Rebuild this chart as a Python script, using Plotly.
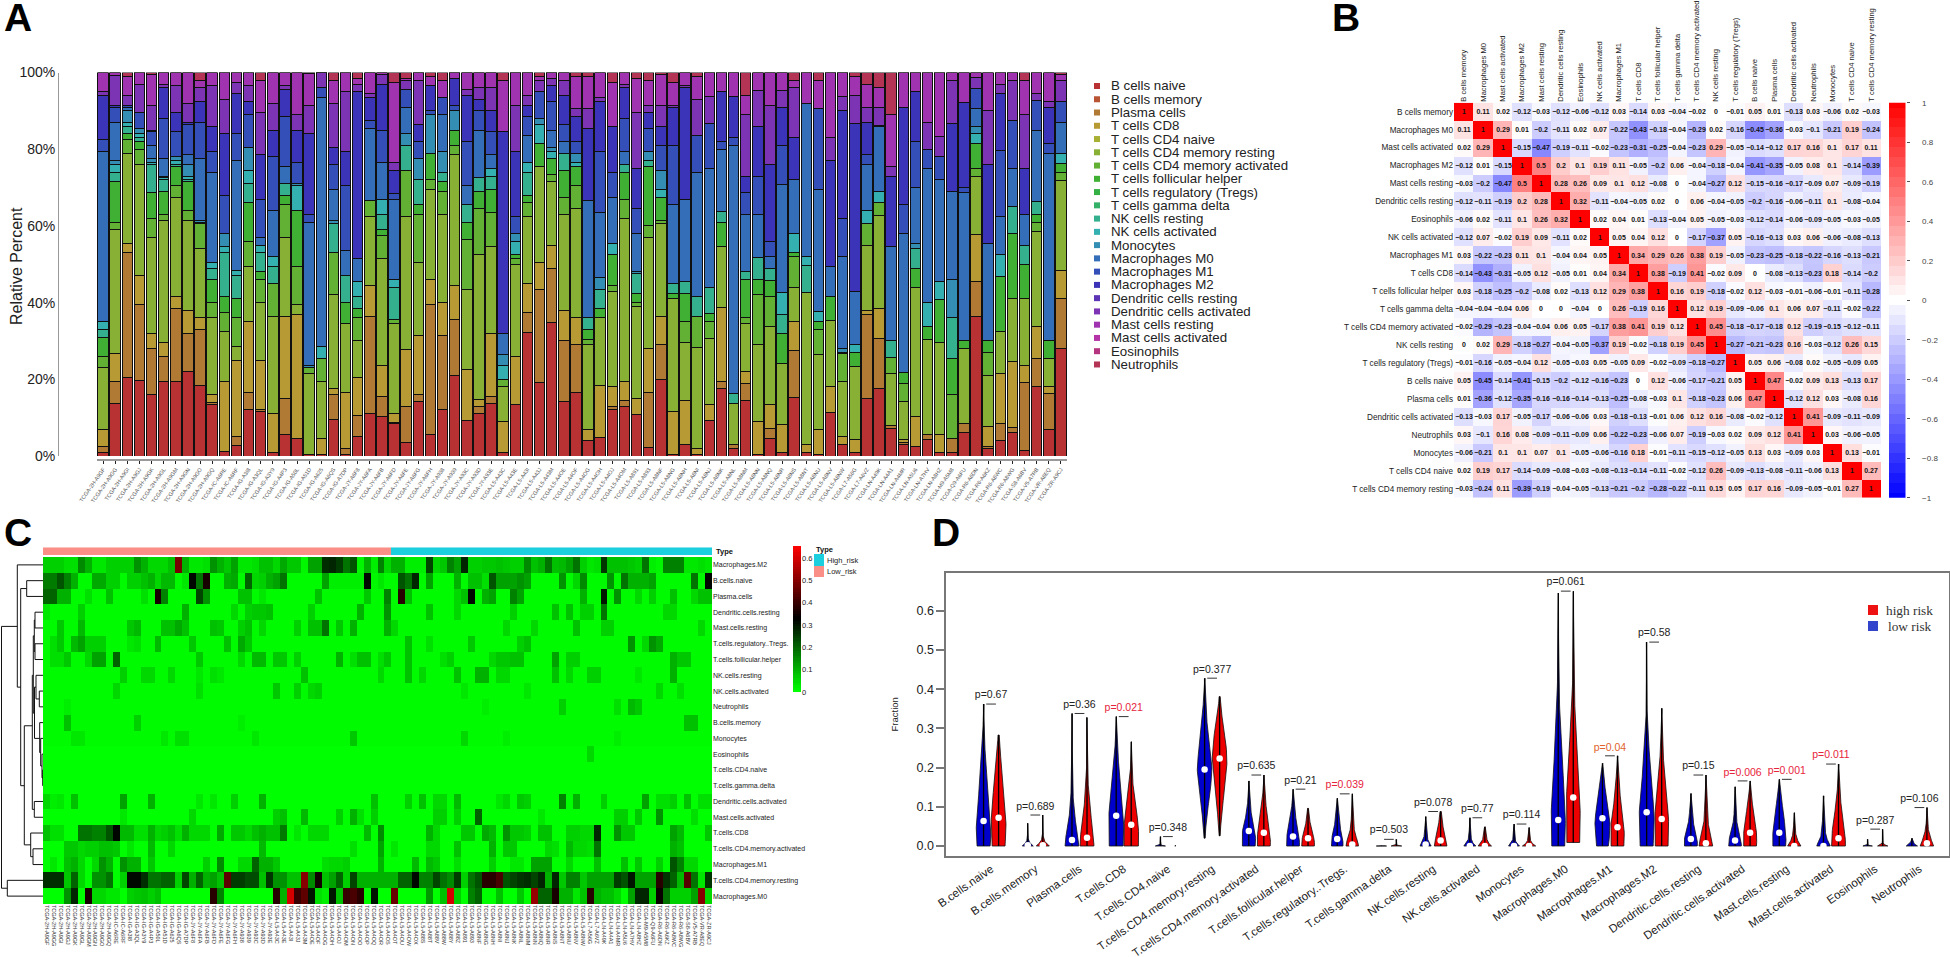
import numpy as np
import plotly.graph_objects as go

W, H = 1950, 957
def px(x): return x / W
def py(y): return 1 - y / H

# ---------- Panel A data ----------
legend_names = ["B cells naive","B cells memory","Plasma cells","T cells CD8","T cells CD4 naive",
 "T cells CD4 memory resting","T cells CD4 memory activated","T cells follicular helper",
 "T cells regulatory (Tregs)","T cells gamma delta","NK cells resting","NK cells activated","Monocytes",
 "Macrophages M0","Macrophages M1","Macrophages M2","Dendritic cells resting","Dendritic cells activated",
 "Mast cells resting","Mast cells activated","Eosinophils","Neutrophils"]
legend_colors = ["#B83234","#B85434","#B07A34","#B89A34","#A8B034","#88B034","#62B034","#40B034","#34B044",
 "#34B068","#34B08E","#34B0B0","#348EB4","#346EB8","#3450B8","#3C34B8","#5C34B4","#7C34B4","#A034B0",
 "#B434A8","#B43480","#B43456"]
# cumulative tops (percent) of the visibly read layers in each bar; the rest up to 100 is the top layer
layer_names = ["B cells naive","Plasma cells","T cells CD8","T cells CD4 memory resting","T cells CD4 memory activated",
 "T cells follicular helper","NK cells resting","NK cells activated","Monocytes","Macrophages M0","Macrophages M1",
 "Macrophages M2","Dendritic cells activated","Mast cells resting"]
b00=[1,2.5,7,23,26,31,33,35,35,79.5,82.5,94,95,100]
b01=[13.7,19.4,26.7,59,61,71.5,74,76,77,87,91,91.5,99.3,100]
b02=[20.5,53,55.5,79,82.5,84,86,87,90,91,91.5,91.5,94,99]
b03=[19.6,39.5,47,76,80,82,83,84,85.5,85.5,89.5,89.7,97,100]
b04=[16,28,32,57,62,68.7,76,76.5,77.5,81,84.5,85,91.5,99.5]
b05=[19.3,26,29.5,61.5,63,69,72,72.5,73,77.5,88,96,97,100]
b06=[19.5,38.5,41.5,67.3,70.5,75.5,76,77,78,78,84.5,89.5,96.5,100]
b07=[22,32,38,61.5,64,71.5,72,73,76,78.5,86.5,87,92,100]
b08=[18.5,33,36,54,60.5,61,61,61,61.5,77.5,87,92.5,96,98]
b09=[13.5,14,16,36,40,46,49,50.5,50.5,74,79.5,86,96.5,100]
b10=[1.3,1.3,19.5,32.5,37.5,41.5,53,54.5,58,58,68,84,93,100]
b11=[2.8,5,25,28.5,36,41,47,48.5,48.5,77,84,94.5,97.5,100]
b12=[12.2,16.5,35,49.5,56,66,71,74.5,80.5,80.5,89,92.5,96.5,100]
b13=[11.5,12,25,40,46,48,53,55,55,57,67,78.5,89.5,98]
b14=[1,1,11,36.5,45,45,49.5,52,52,64,78,85,92,100]
b15=[5.5,15,36.5,57,65.5,68,71,71,71,75.5,88.5,95.5,96.5,100]
b16=[4.5,4.5,37,39.5,49.5,64,64,70.5,71,71,76.5,85,89,100]
b17=[0.3,0.3,0.3,21.5,23,23,23,23,23.5,61,63,84,91.5,99.7]
b18=[0.3,0.3,4.5,19.5,25.5,25.5,25.5,28.5,28.5,93.5,96,96,100,100]
b19=[9.5,16,17.5,42,53,53,60.5,60.5,61.5,69.5,76,80.5,92,98]
b20=[0.5,2,16.5,34.5,34.5,40,47,47,47,53.5,70.5,79.5,95,100]
b21=[5,10.5,20.5,30,36,38.5,41.5,45.5,45.5,51.5,51.5,95,97,98.5]
b22=[11,36.5,44.5,62.5,66.5,66.5,66.5,66.5,66.5,85.5,87.5,93.5,94.5,100]
b23=[10.3,15.5,23.5,51.5,57.5,59,63,67,67,76.5,85,97,99.5,100]
b24=[8.5,8.8,11,34.5,35.5,35.5,44,46,46,67,68.5,74.5,76.5,97.5]
b25=[3.5,13,27.7,62.5,74.5,74.5,81,81,84,91,95.5,95.5,98,98.5]
b26=[14.3,16,31.5,50.5,63,65.5,72,72,77.5,77.5,82,86.5,98,100]
b27=[5.5,39.5,46,69.5,72,79,79,79,89,89,90,96.5,96.5,99]
b28=[12,31.5,40,63,69,71.5,74,74,79.5,89,93.5,93.5,93.5,98]
b29=[21,35.5,44.5,78.5,81,85,85,85,90,90,91.5,98.5,98.5,100]
b30=[9.3,9.3,22.5,43.5,56.5,61,65.5,65.5,65.5,70.5,82,94,95.5,100]
b31=[11,12.8,14.8,52.5,64.5,69,72.5,72.5,72.5,85,90,93,96,100]
b32=[13.7,15.5,32,54.5,63.5,69.5,73,75,75,78.5,84.5,90,96,100]
b33=[1,1,9,18,20,20,20,23.5,26.5,32,32,84.5,84.5,98]
b34=[13.3,13.3,26,50,51.5,52.5,52.5,56,58,58,62.5,79.5,91.5,100]
b35=[32.2,37.5,45,62.5,66,68,74,76.5,76.5,83.5,88.5,91.5,94,100]
b36=[19.2,43.5,50.5,75.5,75.5,81.5,81.5,86.5,88,88,95,95,98,99]
b37=[34.8,49,55,71.5,73.5,77.5,77.5,79.5,80.5,85,92.5,96.5,98.5,100]
b38=[14.3,30,38,63,67.5,74.5,79,79,79,82,86.5,94,98,100]
b39=[16.5,29,36,64.5,70.5,75.5,75.5,76.5,79,79,82,88.5,90.5,99]
b40=[4,4,7,29,30.5,33,36,36,36,66.5,66.5,85.5,90.5,99]
b41=[4.7,4.7,18.5,36,36,38.5,43.5,43.5,46.5,63.5,79.5,92.5,93.5,100]
b42=[12,13,18,43,44.5,52.5,52.5,55.5,55.5,67.5,74,86,86,97.5]
b43=[13,14.5,19.5,62,67,74,76,76,76,79.5,88,96,97,100]
b44=[10.7,10.7,15,39,40,42.5,47.5,47.5,48,58,64.5,75,89.5,98.5]
b45=[2.2,16.6,28,57,60,75.5,77,77,79.5,79.5,85.5,89.5,91.5,98]
b46=[20,29,36.5,60.5,61.5,67.5,67.5,69.5,74.5,74.5,81,86,91.5,99.5]
b47=[0.3,0.3,11.5,41,41,42.5,45,45,45,65.5,81,91,91.5,97.5]
b48=[3,3,14.5,29.5,35,42.5,45.5,45.5,45.5,67,67,96,96.5,100]
b49=[.3,.3,2,28.3,36.3,36.3,41.7,41.7,41.7,74,83.7,83.7,93,99]
b50=[9.2,9.2,13.3,30.7,35,37.2,44,44,44,75,86.7,86.7,93.7,100]
b51=[17.6,19.4,38.7,54.7,54.7,61,63.7,63.7,63.7,80,82,95,95,100]
b52=[2,2.9,2.9,13.6,13.6,13.6,16.3,16.3,16.3,81,83,93.7,93.7,100]
b53=[14.6,19,22,34.6,36,46,48,48,48,63,68.6,72.8,89,94]
b54=[.5,.5,9,29,42,46,51.8,51.8,51.8,63,73,86,95.4,100]
b55=[4.6,7.2,13.5,33.7,41.7,45.7,49,49,49,52,56,76,91.5,100]
b56=[.9,.9,8.3,24,24,32,37,42.6,42.6,70.8,81,91,95.4,100]
b57=[15.3,27.4,35,44,52,53,53,58,58,72,72,83,96,98]
b58=[.9,.9,3,42.6,42.6,42.6,49.8,52,52,92,92,92,92,100]
b59=[.3,.3,6.8,26.5,33,35,35,37.6,37.6,69.5,90.6,90.6,90.6,98]
b60=[11.3,11.3,18,35.4,35.4,41.5,41.5,41.5,41.5,49.5,49.5,77,83,100]
b61=[3,3,5.2,19.4,26.8,27,27,27,28,52,62,90,93.7,100]
b62=[.9,.9,4.2,23.3,23.3,27,27,29,29,43,43,86.7,94,99]
b63=[14.9,36.8,38,55,60.6,60.6,60.6,64,64,76,78.5,87,91,97]
b64=[17.6,30.7,38.5,62.8,66,66,66,69,69,86,86.3,86.3,91,96]
b65=[7.2,8,8,21.5,25.7,25.7,30,30,30,54.7,54.7,73,75.4,89]
b66=[2.9,3.5,4.2,14.2,19,21.7,21.7,21.7,21.7,58,65.7,91,91,100]
b67=[2.6,2.6,10.3,44,44,49,54,54,55.4,70,82,95,95,100]
b68=[4.2,5.5,5.5,30.4,30.4,33.7,33.7,40,40,75,80,80,87,100]
b69=[1,1,5.6,29.6,29.6,40.7,40.7,45.5,45.5,72,78,78,83.4,100]
b70=[1,4.6,4.6,4.6,16,25.5,36,36,46,69,69,86.7,98,100]
b71=[6,8.5,8.5,28,28,30,30,30,30,68.6,70,92.3,92.3,100]
b72=[36.3,45.4,57.8,73,75,81.5,81.5,84,86,90.6,95.8,95.8,98.8,100]
b73=[2,2.4,7.6,21,27,30,30,30,30,55.4,55.4,76,90,100]
b74=[4,8.5,21.5,32.4,32.4,46.7,46.7,52.6,52.6,62.5,79.6,94.5,97,100]
b75=[6,7.4,24.6,41,41,58,65,65,65,75,87.6,87.6,98,100]
b76=[1.4,19.2,23.5,41,41,50,55,55,55,63,63,75,89,98]
b77=[18,25.5,33.7,58.5,61,63,66.3,66.3,66.3,85,92.8,92.8,94.5,100]
b78=[7,16.3,18,25.5,25.5,30,30,30,30,79,81.5,91,92.5,100]
b79=[28,41,48.3,71.8,74,76.3,76.3,79,79,87,92.4,92.4,98,99.5]
bars_all=[b00,b01,b02,b03,b04,b05,b06,b07,b08,b09,b10,b11,b12,b13,b14,b15,b16,b17,b18,b19,b20,b21,b22,b23,b24,b25,b26,b27,b28,b29,
 b30,b31,b32,b33,b34,b35,b36,b37,b38,b39,b40,b41,b42,b43,b44,b45,b46,b47,b48,b49,b50,b51,b52,b53,b54,b55,b56,b57,b58,b59,
 b60,b61,b62,b63,b64,b65,b66,b67,b68,b69,b70,b71,b72,b73,b74,b75,b76,b77,b78,b79]

samples_c = ["2H-A9GF","2H-A9GG","2H-A9GI","2H-A9GJ","2H-A9GK","2H-A9GL","2H-A9GM","2H-A9GN","2H-A9GO","2H-A9GQ",
 "IC-A6RE","IC-A6RF","IG-A3I8","IG-A3QL","IG-A3Y9","IG-A4P3","IG-A50L","IG-A51D","IG-A625","IG-A6QS","IG-A7DP","JY-A6F8",
 "JY-A6FA","JY-A6FB","JY-A6FD","JY-A6FE","JY-A6FG","JY-A6FH","JY-A938","JY-A939","JY-A93C","JY-A93D","JY-A93E","L5-A43C",
 "L5-A43E","L5-A43I","L5-A43J","L5-A43M","L5-A4OE","L5-A4OF","L5-A4OG","L5-A4OH","L5-A4OJ","L5-A4OM","L5-A4ON","L5-A4OO",
 "L5-A4OP","L5-A4OQ","L5-A4OR","L5-A4OS","L5-A4OT","L5-A4OU","L5-A4OW","L5-A4OX","L5-A88S","L5-A88T","L5-A88V","L5-A88W",
 "L5-A88Y","L5-A88Z","L5-A891","L5-A893","L5-A8NF","L5-A8NG","L5-A8NH","L5-A8NI","L5-A8NJ","L5-A8NK","L5-A8NL","L5-A8NM",
 "L5-A8NN","L5-A8NQ","L5-A8NR","L5-A8NS","L5-A8NT","L5-A8NU","L5-A8NV","L5-A8NW","L7-A56G","L7-A6VZ","LN-A49K","LN-A4A1",
 "LN-A4MR","LN-A5U6","LN-A7HV","LN-A8HZ","M9-A5M8","Q9-A6FU","R6-A6DN","R6-A6KZ","R6-A8WC","R6-A8WG","S8-A6BV","V5-A7RB","VR-A8EQ","ZR-A9CJ"]
samples_a = samples_c[:44] + samples_c[60:]

# ---------- Panel B data ----------
corr_names = ["B cells memory","Macrophages M0","Mast cells activated","Macrophages M2","Mast cells resting","Dendritic cells resting",
 "Eosinophils","NK cells activated","Macrophages M1","T cells CD8","T cells follicular helper","T cells gamma delta",
 "T cells CD4 memory activated","NK cells resting","T cells regulatory (Tregs)","B cells naive","Plasma cells",
 "Dendritic cells activated","Neutrophils","Monocytes","T cells CD4 naive","T cells CD4 memory resting"]
c01=[1,0.11,0.02,-0.12,-0.03,-0.12,-0.06,-0.12,0.03,-0.14,0.03,-0.04,-0.02,0,-0.01,0.05,0.01,-0.13,0.03,-0.06,0.02,-0.03]
c02=[0.11,1,0.29,0.01,-0.2,-0.11,0.02,0.07,-0.22,-0.43,-0.18,-0.04,-0.29,0.02,-0.16,-0.45,-0.36,-0.03,-0.1,-0.21,0.19,-0.24]
c03=[0.02,0.29,1,-0.15,-0.47,-0.19,-0.11,-0.02,-0.23,-0.31,-0.25,-0.04,-0.23,0.29,-0.05,-0.14,-0.12,0.17,0.16,0.1,0.17,0.11]
c04=[-0.12,0.01,-0.15,1,0.5,0.2,0.1,0.19,0.11,-0.05,-0.2,0.06,-0.04,-0.18,-0.04,-0.41,-0.35,-0.05,0.08,0.1,-0.14,-0.39]
c05=[-0.03,-0.2,-0.47,0.5,1,0.28,0.26,0.09,0.1,0.12,-0.08,0,-0.04,-0.27,0.12,-0.15,-0.16,-0.17,-0.09,0.07,-0.09,-0.19]
c06=[-0.12,-0.11,-0.19,0.2,0.28,1,0.32,-0.11,-0.04,-0.05,0.02,0,0.06,-0.04,-0.05,-0.2,-0.16,-0.06,-0.11,0.1,-0.08,-0.04]
c07=[-0.06,0.02,-0.11,0.1,0.26,0.32,1,0.02,0.04,0.01,-0.13,-0.04,0.05,-0.05,-0.03,-0.12,-0.14,-0.06,-0.09,-0.05,-0.03,-0.05]
c08=[-0.12,0.07,-0.02,0.19,0.09,-0.11,0.02,1,0.05,0.04,0.12,0,-0.17,-0.37,0.05,-0.16,-0.13,0.03,0.06,-0.06,-0.08,-0.13]
c09=[0.03,-0.22,-0.23,0.11,0.1,-0.04,0.04,0.05,1,0.34,0.29,0.26,0.38,0.19,-0.05,-0.23,-0.25,-0.18,-0.22,-0.16,-0.13,-0.21]
c10=[-0.14,-0.43,-0.31,-0.05,0.12,-0.05,0.01,0.04,0.34,1,0.38,-0.19,0.41,-0.02,0.09,0,-0.08,-0.13,-0.23,0.18,-0.14,-0.2]
c11=[0.03,-0.18,-0.25,-0.2,-0.08,0.02,-0.13,0.12,0.29,0.38,1,0.16,0.19,-0.18,-0.02,0.12,-0.03,-0.01,-0.06,-0.01,-0.11,-0.28]
c12=[-0.04,-0.04,-0.04,0.06,0,0,-0.04,0,0.26,-0.19,0.16,1,0.12,0.19,-0.09,-0.06,0.1,0.06,0.07,-0.11,-0.02,-0.22]
c13=[-0.02,-0.29,-0.23,-0.04,-0.04,0.06,0.05,-0.17,0.38,0.41,0.19,0.12,1,0.45,-0.18,-0.17,-0.18,0.12,-0.19,-0.15,-0.12,-0.11]
c14=[0,0.02,0.29,-0.18,-0.27,-0.04,-0.05,-0.37,0.19,-0.02,-0.18,0.19,0.45,1,-0.27,-0.21,-0.23,0.16,-0.03,-0.12,0.26,0.15]
c15=[-0.01,-0.16,-0.05,-0.04,0.12,-0.05,-0.03,0.05,-0.05,0.09,-0.02,-0.09,-0.18,-0.27,1,0.05,0.06,-0.08,0.02,-0.05,-0.09,0.05]
c16=[0.05,-0.45,-0.14,-0.41,-0.15,-0.2,-0.12,-0.16,-0.23,0,0.12,-0.06,-0.17,-0.21,0.05,1,0.47,-0.02,0.09,0.13,-0.13,0.17]
c17=[0.01,-0.36,-0.12,-0.35,-0.16,-0.16,-0.14,-0.13,-0.25,-0.08,-0.03,0.1,-0.18,-0.23,0.06,0.47,1,-0.12,0.12,0.03,-0.08,0.16]
c18=[-0.13,-0.03,0.17,-0.05,-0.17,-0.06,-0.06,0.03,-0.18,-0.13,-0.01,0.06,0.12,0.16,-0.08,-0.02,-0.12,1,0.41,-0.09,-0.11,-0.09]
c19=[0.03,-0.1,0.16,0.08,-0.09,-0.11,-0.09,0.06,-0.22,-0.23,-0.06,0.07,-0.19,-0.03,0.02,0.09,0.12,0.41,1,0.03,-0.06,-0.05]
c20=[-0.06,-0.21,0.1,0.1,0.07,0.1,-0.05,-0.06,-0.16,0.18,-0.01,-0.11,-0.15,-0.12,-0.05,0.13,0.03,-0.09,0.03,1,0.13,-0.01]
c21=[0.02,0.19,0.17,-0.14,-0.09,-0.08,-0.03,-0.08,-0.13,-0.14,-0.11,-0.02,-0.12,0.26,-0.09,-0.13,-0.08,-0.11,-0.06,0.13,1,0.27]
c22=[-0.03,-0.24,0.11,-0.39,-0.19,-0.04,-0.05,-0.13,-0.21,-0.2,-0.28,-0.22,-0.11,0.15,0.05,0.17,0.16,-0.09,-0.05,-0.01,0.27,1]
corr_rows=[c01,c02,c03,c04,c05,c06,c07,c08,c09,c10,c11,c12,c13,c14,c15,c16,c17,c18,c19,c20,c21,c22]

# ---------- Panel C data (percent fractions; cells not listed are background) ----------
n_cols = 96
n_low = 50
h00={0:6,1:6,2:6,3:4,4:4,5:15,6:10,7:3,8:3,9:6,10:6,11:6,12:6,13:14,14:10,15:5,16:5,17:5,18:8,19:48,20:10,21:3,22:3,23:4,24:14,25:10,26:7,27:12,28:3,29:3,30:4,31:8,32:8,33:5,34:11,35:7,36:7,37:1,38:12,39:12,40:27,41:28,42:25,43:18,44:22,45:1,46:10,47:2,48:16,49:5,50:10,51:10,52:2,53:2,54:2,55:24,56:5,57:7,58:16,59:12,60:28,61:6,62:6,63:7,64:7,65:8,66:7,67:6,68:6,69:15,70:8,71:10,72:18,73:8,74:9,75:12,76:18,77:6,78:3,79:4,80:26,81:8,82:8,83:8,84:7,85:6,86:18,87:2,88:1,89:16,90:16,91:16,92:3,93:3,94:4,95:3}
h01={0:17,1:17,2:22,3:16,4:10,7:11,8:11,9:6,10:6,12:6,13:6,14:8,15:10,16:5,17:9,18:9,20:3,21:32,22:18,23:36,26:10,27:11,29:20,30:5,31:6,32:10,33:12,34:18,40:12,41:2,42:2,43:2,44:2,45:2,46:32,47:1,48:3,51:22,52:18,53:28,55:12,59:10,61:8,62:8,63:4,64:22,65:12,66:12,67:12,68:14,69:12,74:14,76:5,77:15,81:14,83:18,84:10,85:10,86:10,87:12,93:18,95:32}
h02={0:20,1:20,2:10,3:10,6:4,9:8,14:4,16:36,17:16,22:24,23:14,28:8,29:8,31:3,39:8,46:7,49:16,51:38,52:8,59:5,60:8,61:32,63:10,64:12,67:16,68:12,77:10,80:30,82:14,85:5,87:6,90:8,93:5,94:8,95:8}
h03={0:3,5:6,20:10,27:5,29:6,30:7,31:7,32:8,38:6,45:10,49:14,55:8,59:5,67:6,73:8,75:8,77:6,78:6,80:18,89:5,90:5}
h04={2:7,5:9,12:7,13:9,17:8,18:8,19:11,20:8,24:8,25:7,28:6,29:8,31:5,36:6,38:8,39:8,40:18,42:7,44:10,49:10,50:5,66:5,70:5,76:8,80:6,81:6,94:5}
h05={1:4,2:7,4:9,5:12,6:6,7:6,8:6,12:3,13:4,16:9,21:7,26:8,28:11,29:7,52:8,55:4,61:7,68:6,69:8,84:14,86:5,87:14,88:11}
h06={1:4,2:4,3:7,6:5,7:12,8:12,10:20,22:7,28:5,30:9,31:9,33:7,34:7,36:6,42:10,44:4,45:8,46:8,48:4,49:7,52:8,57:4,58:6,64:5,65:7,66:7,67:8,68:8,73:12,75:6,76:6,90:10,91:7,92:7}
h07={11:6,14:5,15:5,18:5,22:3,24:4,25:3,37:8,48:5,52:8,54:5,59:8,62:10,63:10,65:5,66:5,73:8,75:5,78:6,79:6,90:10,85:3}
h08={10:5,22:4,33:7,36:6,38:5,39:6,60:3,69:3,88:5,91:4}
h09={3:2,63:2,74:6,82:4,84:9,85:7}
h10={3:8,13:6,28:2,92:8,93:8}
h11={4:3,5:3,17:3,19:4,20:4,30:3,44:7,60:5,66:2,82:2}
h12={78:5}
h13={}
h14={}
h15={0:5,1:2,2:3,4:8,11:12,15:10,22:3,24:3,27:6,31:10,47:8,52:6,54:8,56:5,57:5,59:9,65:3,66:5,68:7,69:6,74:16,76:10,80:6,86:12,88:4,89:4,90:6,92:8,94:4,95:4}
h16={11:3,21:5,33:6,34:8,37:9,42:6,44:10,45:4,47:6,56:6,57:6,59:6,62:20,71:3,82:6,83:6,85:7,88:14,93:4}
h17={0:8,1:4,2:4,5:18,6:18,7:16,8:16,9:22,10:32,11:9,12:9,13:4,14:4,15:10,16:5,17:6,18:8,19:4,20:10,21:5,22:5,23:5,25:11,27:7,28:7,29:5,30:8,31:10,32:8,33:8,34:17,36:3,38:5,39:5,40:5,46:9,48:15,55:10,56:5,60:7,61:7,63:11,64:9,66:14,67:7,68:7,69:6,71:8,72:8,75:6,76:6,77:5,78:5,79:28,82:14,83:7,84:7,90:12,91:9,95:7}
h18={3:7,4:7,5:5,6:6,7:6,8:8,9:8,10:7,12:3,15:9,18:5,31:9,48:12,44:4,50:3,55:5,56:5,59:8,64:10,66:7,67:7,72:5,73:4,75:9,76:5,77:5,78:4,79:18,90:10,91:8}
h19={1:3,3:8,4:10,5:5,7:5,8:14,9:10,11:14,12:10,13:10,15:7,23:6,25:15,28:5,29:5,30:20,31:10,32:10,33:7,40:4,41:5,42:5,43:6,48:10,53:9,55:9,56:7,59:4,64:6,67:3,68:3,70:12,71:12,72:12,75:5,79:8,83:8,85:7,88:6,90:22,91:16,92:5,93:5}
h20={0:27,1:27,2:27,3:7,4:20,5:5,7:14,8:14,9:18,10:0,11:6,12:32,13:32,14:27,15:18,16:18,17:20,18:20,19:6,20:24,21:10,22:20,23:10,24:12,25:8,26:45,27:25,28:25,29:23,30:23,31:8,32:26,33:14,34:14,35:8,36:8,37:50,38:15,39:35,40:8,41:12,42:20,43:6,44:24,45:10,46:10,47:10,48:10,49:10,50:10,51:20,52:20,53:32,54:16,55:16,56:24,57:18,58:15,59:25,60:6,61:18,62:22,63:38,64:38,65:42,66:22,67:24,68:26,69:27,70:24,71:28,72:10,73:28,74:7,75:16,76:16,77:7,78:12,79:12,80:12,81:12,82:25,83:22,84:30,85:12,86:12,87:12,88:38,89:26,90:20,91:9,92:44,93:18,94:3,95:26}
h21={3:14,4:28,6:36,7:5,8:5,9:3,10:3,12:6,13:7,14:8,15:6,16:8,24:38,25:16,33:38,34:10,35:60,36:40,37:45,38:30,39:4,40:2,41:30,42:8,43:40,44:42,45:38,47:30,50:46,55:13,57:8,58:60,59:6,61:16,62:20,65:8,68:7,70:52,71:20,72:20,73:36,74:10,75:10,76:3,77:8,78:38,79:10,80:8,81:8,82:5,83:0,84:12,85:28,86:28,87:6,88:34,89:18,90:6,91:6,92:6,93:12,94:50,95:5}
heat_rows=[h00,h01,h02,h03,h04,h05,h06,h07,h08,h09,h10,h11,h12,h13,h14,h15,h16,h17,h18,h19,h20,h21]
heat_names=["Macrophages.M2","B.cells.naive","Plasma.cells","Dendritic.cells.resting","Mast.cells.resting","T.cells.regulatory..Tregs.",
 "T.cells.follicular.helper","NK.cells.resting","NK.cells.activated","Neutrophils","B.cells.memory","Monocytes","Eosinophils",
 "T.cells.CD4.naive","T.cells.gamma.delta","Dendritic.cells.activated","Mast.cells.activated","T.cells.CD8",
 "T.cells.CD4.memory.activated","Macrophages.M1","T.cells.CD4.memory.resting","Macrophages.M0"]
# dendrogram merges: joining x, two child rows, two child x (pixels of tree depth, rows of the heat map)
dend_join=[26.7,35,35,34.3,39.3,36,42.7,42,40.7,39.7,34.5,33.3,34.3,32.3,33,30.7,24.3,20.7,17.3,7.3,1.5]
dend_y1=[1,3,5,3.5,8,7,13,12,11,10,7.75,4.5,15,7,18,17,10.2,1.5,0,20,3.9]
dend_y2=[2,4,6,5.5,9,8.5,14,13.5,12.75,11.9,11,9.4,16,15.5,19,18.5,17.75,14,7.75,21,20.5]
dend_x1=[43,43,43,35,43,43,43,43,43,43,36,34.3,43,33.3,43,43,32.3,26.7,43,43,17.3]
dend_x2=[43,43,43,35,43,39.3,43,42.7,42,40.7,39.7,34.5,43,34.3,43,33,30.7,24.3,20.7,43,7.3]

# ---------- Panel D data ----------
vio_names=["B.cells.naive","B.cells.memory","Plasma.cells","T.cells.CD8","T.cells.CD4.naive","T.cells.CD4.memory.resting",
 "T.cells.CD4.memory.activated","T.cells.follicular.helper","T.cells.regulatory..Tregs.","T.cells.gamma.delta","NK.cells.resting",
 "NK.cells.activated","Monocytes","Macrophages.M0","Macrophages.M1","Macrophages.M2","Dendritic.cells.resting",
 "Dendritic.cells.activated","Mast.cells.resting","Mast.cells.activated","Eosinophils","Neutrophils"]
# (fraction levels, half-width at that level in screen-like units of 1/44 of a group)
low_risk=[([0,.02,.05,.1,.15,.2,.25,.3,.362],[5.5,6.4,6.4,5,3.8,2.5,1.1,.4,.2]),
 ([0,.004,.01,.02,.058],[5,3.5,1.2,.3,.2]),
 ([0,.015,.04,.08,.12,.18,.338],[6,6,4.2,2.2,1.1,.3,.2]),
 ([0,.04,.08,.13,.18,.25,.33],[6,6.5,6.5,4.5,3,1,.2]),
 ([0,.002,.024],[5,.3,.2]),
 ([.02,.08,.14,.2,.26,.32,.428],[.3,2,5,6.6,4.5,1.8,.2]),
 ([0,.02,.04,.07,.1,.166],[5.5,6,5.5,3,1.2,.2]),
 ([0,.02,.04,.07,.1,.145],[5.5,5.8,4.5,2.5,1.1,.2]),
 ([0,.02,.04,.07,.122],[5,5,3,1.5,.2]),
 ([0,.001],[4.5,.2]),
 ([0,.006,.015,.03,.075],[5,3.5,2,1,.2]),
 ([0,.006,.015,.03,.072],[5.5,3,1.5,.6,.2]),
 ([0,.005,.012,.03,.056],[5,3,1.3,.5,.2]),
 ([0,.05,.1,.17,.25,.35,.45,.645],[5.5,6.3,6,4.5,3,1.2,.4,.2]),
 ([0,.03,.07,.11,.15,.211],[5,6.5,6.5,4.5,2.2,.2]),
 ([0,.04,.09,.15,.22,.3,.35,.52],[5.5,6.5,6.5,4.5,2.7,1,.3,.2]),
 ([0,.015,.04,.07,.134],[5.5,6,3.5,1.5,.2]),
 ([0,.015,.04,.07,.151],[5.5,5.5,3,1,.2]),
 ([0,.02,.05,.09,.12,.17],[5.5,6,5,3.5,1.7,.2]),
 ([0,.008,.02,.05,.128],[6,5,2.5,1,.2]),
 ([0,.002,.017],[4.5,.3,.2]),
 ([0,.004,.01,.02],[5,2.5,1,.2])]
high_risk=[([0,.03,.07,.12,.17,.22,.283],[5.5,6.4,6.4,5.2,3.5,2,.4]),
 ([0,.005,.012,.025,.079],[6,4,1.5,.3,.2]),
 ([0,.02,.05,.1,.15,.19,.328],[6,6,4.5,2.5,1.2,.4,.2]),
 ([0,.03,.06,.1,.14,.18,.266],[6.2,6.5,6,4,2.2,.7,.2]),
 ([0,.001],[.5,.2]),
 ([.026,.09,.16,.22,.28,.33,.381],[.3,2,5,6.6,5,2,.3]),
 ([0,.02,.05,.09,.125,.181],[5.5,6,4.5,2.5,1,.2]),
 ([0,.015,.04,.065,.096],[5.5,5.6,3,1.5,.3]),
 ([0,.01,.03,.055,.133],[5.5,5,2.5,1,.2]),
 ([0,.002,.017],[5,.3,.2]),
 ([0,.012,.03,.05,.088],[5.5,5,3.5,2,.5]),
 ([0,.006,.015,.03,.049],[6,3.5,2,1,.3]),
 ([0,.006,.012,.025,.047],[6,3,1.5,.6,.2]),
 ([.009,.06,.12,.18,.25,.32,.4,.65],[5.5,6,6,5,3.5,2,.6,.2]),
 ([0,.03,.06,.1,.15,.23],[5.5,6,5.5,3.5,1.5,.2]),
 ([0,.04,.08,.13,.19,.26,.351],[5.5,6,6,4,2.3,.7,.2]),
 ([0,.012,.035,.065,.181],[6,5.5,3.5,1.5,.2]),
 ([0,.02,.05,.09,.125,.166],[5.5,6,5,3,1,.2]),
 ([0,.008,.02,.04,.085],[6,4,2,.7,.2]),
 ([0,.02,.05,.09,.13,.209],[6,6,5,3,1.2,.2]),
 ([0,.003,.008,.043],[5,1.5,.3,.2]),
 ([0,.01,.025,.05,.098],[6,4.5,2.5,.7,.2])]
median_low=[.064,.002,.015,.077,None,.195,.038,.024,.018,None,.004,0,0,.066,.071,.086,.018,.014,.034,0,None,None]
median_high=[.072,.002,.021,.054,None,.223,.034,.02,.004,None,.014,0,0,.124,.048,.069,.007,.034,0,.02,None,.007]
p_text=["p=0.67","p=0.689","p=0.36","p=0.021","p=0.348","p=0.377","p=0.635","p=0.21","p=0.039","p=0.503","p=0.078","p=0.77",
 "p=0.114","p=0.061","p=0.04","p=0.58","p=0.15","p=0.006","p=0.001","p=0.011","p=0.287","p=0.106"]
p_y=[.384,.099,.359,.35,.044,.448,.203,.165,.154,.039,.108,.094,.077,.672,.25,.541,.202,.185,.19,.23,.064,.12]
bracket_y=[.362,.079,.338,.33,.024,.428,.181,.145,.133,.017,.088,.072,.056,.65,.23,.52,.181,.166,.17,.209,.043,.098]
p_color=["#222222","#222222","#222222","#E8243C","#222222","#222222","#222222","#222222","#E8243C","#222222","#222222","#222222",
 "#222222","#222222","#E0622C","#222222","#222222","#E8243C","#E8243C","#E8243C","#222222","#222222"]

# ---------- Figure ----------
fig = go.Figure()
FONT = "Liberation Sans"
NARROW = "Liberation Sans Narrow, Liberation Sans"

# A: stacked bars
tops = np.array(bars_all, dtype=float)
tops = np.hstack([tops, np.full((len(tops), 1), 100.0)])
widths = np.maximum(np.diff(np.hstack([np.zeros((len(tops), 1)), tops]), axis=1), 0)
a_names = layer_names + ["Neutrophils"]
xa = list(range(len(tops)))
for j, nm in enumerate(a_names):
    fig.add_trace(go.Bar(x=xa, y=widths[:, j], name=nm, width=0.86, xaxis="x", yaxis="y",
                         marker=dict(color=legend_colors[legend_names.index(nm)], line=dict(color="#101010", width=1)),
                         showlegend=False))

# B: correlation heat map, with its scale drawn as a small heat map of its own
CS_B = [[0, "#0000FF"], [0.5, "#FFFFFF"], [1, "#FF0000"]]
corr = np.array(corr_rows)
corr_text = [[str(v).replace("-", "\u2212") if v != 0 else "0" for v in r] for r in corr_rows]
fig.add_trace(go.Heatmap(z=corr, x=list(range(22)), y=list(range(22)), xaxis="x2", yaxis="y2", zmin=-1, zmax=1,
    colorscale=CS_B, text=corr_text, texttemplate="%{text}", showscale=False,
    textfont=dict(size=7, color="#111111", family=FONT, weight="bold")))
levels_b = np.linspace(-1, 1, 41)
fig.add_trace(go.Heatmap(z=[[v] for v in levels_b], x=[0], y=levels_b, xaxis="x7", yaxis="y7", zmin=-1, zmax=1,
                         colorscale=CS_B, showscale=False))

# C: fractions heat map
CS_C = [[0, "#00FF00"], [0.5, "#000000"], [1, "#FF0000"]]
hz = np.array([[r.get(c, 0.6 if i < 12 else 0.0) for c in range(n_cols)] for i, r in enumerate(heat_rows)]) / 100
fig.add_trace(go.Heatmap(z=hz, x=list(range(n_cols)), y=list(range(22)), xaxis="x3", yaxis="y3", zmin=0, zmax=0.655,
    colorscale=CS_C, showscale=False))
levels_c = np.linspace(0, 0.655, 60)
fig.add_trace(go.Heatmap(z=[[v] for v in levels_c], x=[0], y=levels_c, xaxis="x8", yaxis="y8", zmin=0, zmax=0.655,
                         colorscale=CS_C, showscale=False))
type_band = [1] * n_low + [0] * (n_cols - n_low)
fig.add_trace(go.Heatmap(z=[type_band], x=list(range(n_cols)), y=[0], xaxis="x4", yaxis="y4", zmin=0, zmax=1, showscale=False,
    colorscale=[[0, "#1CCFDF"], [1, "#FA8F88"]]))
dx, dy = [], []
for xj, y1, y2, x1, x2 in zip(dend_join, dend_y1, dend_y2, dend_x1, dend_x2):
    dx += [x1, xj, xj, x2, None]
    dy += [y1, y1, y2, y2, None]
fig.add_trace(go.Scatter(x=dx, y=dy, mode="lines", xaxis="x5", yaxis="y3", line=dict(color="#111111", width=1), showlegend=False))

# D: violins
def outline(yv, wv):
    yy = np.linspace(yv[0], yv[-1], 80)
    ww = np.interp(yy, yv, wv)
    pad = np.r_[np.full(3, ww[0]), ww, np.full(3, ww[-1])]
    ww = np.convolve(pad, np.ones(7) / 7, mode="valid")
    return yy, 1.15 * ww / 44.2

for k in range(22):
    for off_x, prof, col in ((-0.17, low_risk[k], "#0000CC"), (0.17, high_risk[k], "#EE0000")):
        yy, ww = outline(*prof)
        xs = np.r_[k + off_x - ww, (k + off_x + ww)[::-1], k + off_x - ww[0]]
        ys = np.r_[yy, yy[::-1], yy[0]]
        fig.add_trace(go.Scatter(x=xs, y=ys, mode="lines", fill="toself", fillcolor=col, xaxis="x6", yaxis="y6",
                                 line=dict(color="#111111", width=0.8), showlegend=False))
cx, cy, mx, my = [], [], [], []
for k in range(22):
    for off_x, prof, med in ((-0.17, low_risk[k], median_low[k]), (0.17, high_risk[k], median_high[k])):
        cx += [k + off_x, k + off_x, None]
        cy += [prof[0][0], prof[0][-1], None]
        if med is not None:
            mx.append(k + off_x)
            my.append(med)
fig.add_trace(go.Scatter(x=cx, y=cy, mode="lines", xaxis="x6", yaxis="y6", line=dict(color="#000000", width=1.3), showlegend=False))
fig.add_trace(go.Scatter(x=mx, y=my, mode="markers", xaxis="x6", yaxis="y6", marker=dict(color="white", size=6.5, line=dict(width=0)), showlegend=False))
bx, by = [], []
for k, yb in enumerate(bracket_y):
    bx += [k - 0.11, k + 0.11, None]
    by += [yb, yb, None]
fig.add_trace(go.Scatter(x=bx, y=by, mode="lines", xaxis="x6", yaxis="y6", line=dict(color="#333333", width=1), showlegend=False))
fig.add_trace(go.Scatter(x=list(range(22)), y=p_y, mode="text", text=p_text, xaxis="x6", yaxis="y6",
                         textfont=dict(size=10.5, color=p_color, family=FONT), textposition="middle center", showlegend=False))

# annotations and legend blocks
ann, shapes = [], []
def note(x, y, t, size, color="#222222", family=FONT, xa="left", angle=0, bold=False):
    ann.append(dict(x=px(x), y=py(y), xref="paper", yref="paper", text=("<b>%s</b>" % t) if bold else t, showarrow=False,
                    xanchor=xa, yanchor="middle", textangle=angle, font=dict(size=size, color=color, family=family)))
def box(x0, y0, x1, y1, color):
    shapes.append(dict(type="rect", xref="paper", yref="paper", x0=px(x0), x1=px(x1), y0=py(y1), y1=py(y0),
                       fillcolor=color, line=dict(width=0)))
for i, (nm, col) in enumerate(zip(legend_names, legend_colors)):
    y = 86 + 13.26 * i
    box(1094, y - 3, 1100, y + 3, col)
    note(1109, y, nm, 13.3)
note(16, 266, "Relative Percent", 16, angle=-90, xa="center")
note(2, 17, "A", 39, "#000000", bold=True)
note(1330, 18, "B", 39, "#000000", bold=True)
note(2, 532, "C", 39, "#000000", bold=True)
note(930, 532, "D", 39, "#000000", bold=True)
note(714, 551, "Type", 7.5, "#111111", NARROW, bold=True)
note(814, 549, "Type", 7.5, "#111111", NARROW, bold=True)
box(814, 554, 824, 566, "#1CCFDF")
box(814, 566, 824, 577, "#FA8F88")
note(825, 560, "High_risk", 7.5, "#222222", NARROW)
note(825, 571, "Low_risk", 7.5, "#222222", NARROW)
note(893.5, 715, "Fraction", 9.5, angle=-90, xa="center")
box(1868, 605, 1878, 615, "#EE1111")
box(1868, 621, 1878, 631, "#3344CC")
note(1884, 610, "high risk", 13.3, "#333333", "Liberation Serif")
note(1886, 626, "low risk", 13.3, "#333333", "Liberation Serif")

off = dict(visible=False, showgrid=False, zeroline=False)
fig.update_layout(
    width=W, height=H, margin=dict(l=0, r=0, t=0, b=0, pad=0, autoexpand=False), paper_bgcolor="white", plot_bgcolor="white",
    barmode="stack", bargap=0.14, showlegend=False, annotations=ann, shapes=shapes, font=dict(family=FONT),
    xaxis=dict(domain=[px(97), px(1067)], range=[-0.5, 79.5], anchor="free", position=py(460), showline=True, linecolor="#999999",
               linewidth=2, ticks="outside", ticklen=3, tickcolor="#222222", tickwidth=1, tickmode="array", tickvals=xa,
               ticktext=["TCGA-" + s for s in samples_a], tickangle=-55, tickfont=dict(size=5.5, color="#555555", family=FONT),
               showgrid=False, zeroline=False),
    yaxis=dict(domain=[py(456), py(72.5)], range=[0, 100], anchor="free", position=px(58), showline=True, linecolor="#999999",
               linewidth=1, tickmode="array", tickvals=[0, 20, 40, 60, 80, 100], ticktext=["0%", "20%", "40%", "60%", "80%", "100%"],
               ticks="", tickfont=dict(size=14, color="#222222", family=FONT), showgrid=False, zeroline=False),
    xaxis2=dict(domain=[px(1454), px(1881)], range=[-0.5, 21.5], anchor="y2", side="top", tickmode="array", tickvals=list(range(22)),
                ticktext=corr_names, tickangle=-90, ticks="", tickfont=dict(size=7.6, color="#222222", family=FONT), showgrid=False, zeroline=False),
    yaxis2=dict(domain=[py(497.7), py(102.7)], range=[21.5, -0.5], anchor="x2", tickmode="array", tickvals=list(range(22)),
                ticktext=corr_names, ticks="", tickfont=dict(size=8.2, color="#222222", family=FONT), showgrid=False, zeroline=False),
    xaxis3=dict(domain=[px(43), px(712)], range=[-0.5, n_cols - 0.5], anchor="y3", tickmode="array", tickvals=list(range(n_cols)),
                ticktext=["TCGA-" + s for s in samples_c], tickangle=90, ticks="", tickfont=dict(size=5.5, color="#333333", family=NARROW),
                showgrid=False, zeroline=False),
    yaxis3=dict(domain=[py(904), py(557)], range=[21.5, -0.5], anchor="x3", side="right", tickmode="array", tickvals=list(range(22)),
                ticktext=heat_names, ticks="", tickfont=dict(size=7, color="#222222", family=NARROW), showgrid=False, zeroline=False),
    xaxis4=dict(domain=[px(43), px(712)], range=[-0.5, n_cols - 0.5], anchor="y4", **off),
    yaxis4=dict(domain=[py(555), py(547.3)], range=[-0.5, 0.5], anchor="x4", **off),
    xaxis5=dict(domain=[0, px(43)], range=[0, 43], anchor="y3", **off),
    xaxis6=dict(domain=[px(946.4), px(1949)], range=[-1.011, 21.67], anchor="y6", showline=True, mirror=True, linecolor="#777777", linewidth=2,
                tickmode="array", tickvals=list(range(22)), ticktext=vio_names, tickangle=-35, ticks="",
                tickfont=dict(size=11.5, color="#222222", family=FONT), showgrid=False, zeroline=False),
    yaxis6=dict(domain=[py(856), py(572.7)], range=[-0.0255, 0.697], anchor="x6", showline=True, mirror=True, linecolor="#777777", linewidth=2,
                tickvals=[0, .1, .2, .3, .4, .5, .6], tickformat=".1f", ticks="outside", ticklen=8, tickcolor="#777777", tickwidth=1.5,
                tickfont=dict(size=12.5, color="#222222", family=FONT), showgrid=False, zeroline=False),
    xaxis7=dict(domain=[px(1889), px(1905.5)], anchor="y7", **off),
    yaxis7=dict(domain=[py(497.7), py(102.7)], range=[-1, 1], anchor="x7", side="right", tickmode="array",
                tickvals=[-1, -.8, -.6, -.4, -.2, 0, .2, .4, .6, .8, 1],
                ticktext=["\u22121", "\u22120.8", "\u22120.6", "\u22120.4", "\u22120.2", "0", "0.2", "0.4", "0.6", "0.8", "1"],
                ticks="outside", ticklen=3, tickcolor="#555555", ticklabelstandoff=11,
                tickfont=dict(size=8, color="#444444", family=FONT), showgrid=False, zeroline=False),
    xaxis8=dict(domain=[px(793), px(801)], anchor="y8", **off),
    yaxis8=dict(domain=[py(692), py(546)], range=[0, 0.655], anchor="x8", side="right", tickmode="array",
                tickvals=[0, .1, .2, .3, .4, .5, .6], ticktext=["0", "0.1", "0.2", "0.3", "0.4", "0.5", "0.6"], ticks="",
                tickfont=dict(size=7.5, color="#222222", family=FONT), showgrid=False, zeroline=False),
)
fig.update_xaxes(automargin=False)
fig.update_yaxes(automargin=False)
fig.write_html("out.html", config=dict(displayModeBar=False),
               post_script="document.body.style.margin='0';document.documentElement.style.overflow='hidden';")
